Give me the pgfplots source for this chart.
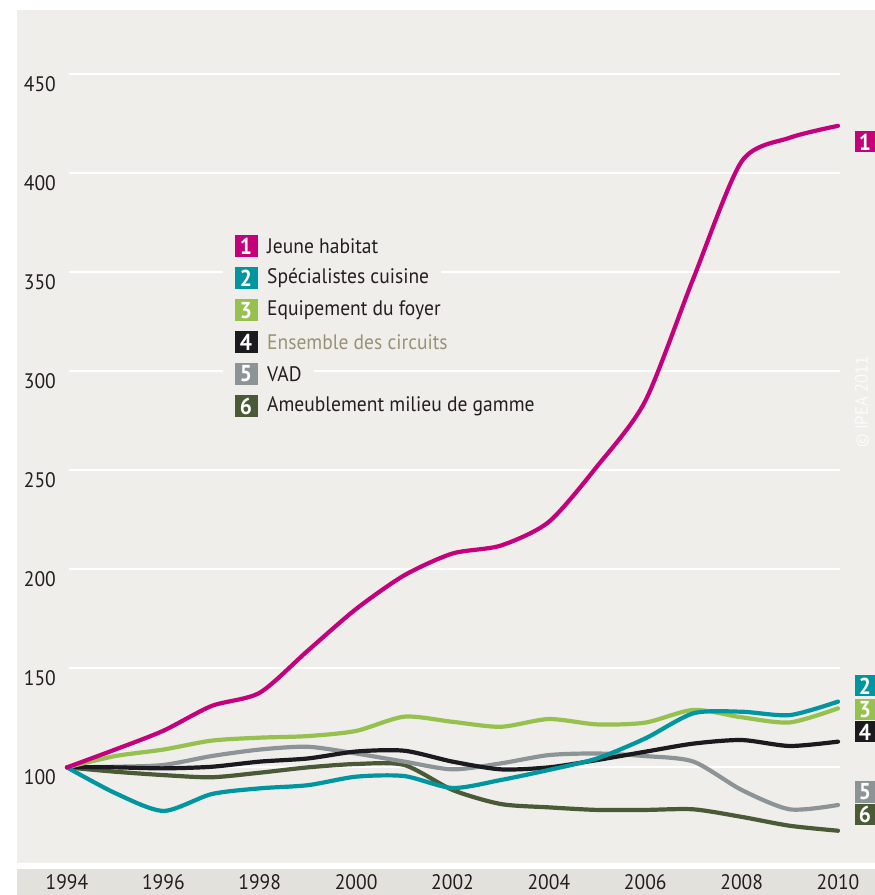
\documentclass[border=0pt]{standalone}
\usepackage{pgfplots}
\usepackage{pgfplotstable}
\pgfplotsset{compat=1.18}
\usepackage{fontspec}
\setmainfont{PT Sans}[FakeStretch=0.93]
\definecolor{panel}{RGB}{239,238,234}
\definecolor{band}{RGB}{227,225,219}
\definecolor{cJ}{RGB}{196,0,122}
\definecolor{cS}{RGB}{0,150,160}
\definecolor{cE}{RGB}{151,193,79}
\definecolor{cT}{RGB}{27,27,31}
\definecolor{cV}{RGB}{141,148,151}
\definecolor{cA}{RGB}{74,90,55}
\definecolor{txt}{RGB}{35,31,32}
\definecolor{khaki}{RGB}{154,146,117}
\newcommand{\lbl}{\fontsize{21}{25}\selectfont}

\pgfplotstableread{
year J S E T V A
1994 100 100 100 100 100 100
1995 109 87 105.7 100 100.3 97.8
1996 118.5 78 109 99.5 101.2 96.1
1997 131 86.5 113.5 100.3 105.7 95
1998 137.7 89.4 115 102.9 109 97.3
1999 159 91 115.8 104.5 110.4 100
2000 180 95.3 118.4 108 107 101.7
2001 197 95.6 125.6 108.4 102.9 101.2
2002 208 89.6 123 102.9 99 88.6
2003 212 93.6 120.5 99 102 81.5
2004 224 98.7 124.4 100 106.2 79.8
2005 252 104.5 121.7 103.7 107 78.5
2006 285 114.6 122.6 107.9 105.7 78.5
2007 347 127.3 129 112 102.9 78.8
2008 406 128.1 125.3 113.8 88.6 75
2009 418 126.4 122.7 110.8 78.8 70.5
2010 424 133.2 129.8 113 81 68
}\data

\newcommand{\legrow}[5]{%
  \fill[panel] (206,{#1-13}) rectangle (239,{#1+13});
  \node[anchor=west, fill=panel, inner xsep=12pt, inner ysep=0pt, minimum height=26pt, text=#5, font=\lbl] at (238,#1) {#4};
  \node[fill=#2, text=white, font=\fontsize{23}{25}\selectfont\bfseries, minimum width=23pt, minimum height=22pt, inner sep=0pt] at (229,#1) {#3};
}
\newcommand{\rbox}[3]{%
  \node[fill=#2, text=white, font=\fontsize{23}{25}\selectfont\bfseries, minimum width=20pt, minimum height=21pt, inner sep=0pt] at (848,#1) {#3};
}

\begin{document}
\begin{tikzpicture}
\begin{scope}[x=1pt,y=1pt]
\fill[band] (0,-6) rectangle (858,-32);
\end{scope}
\begin{axis}[
  at={(0,0)}, anchor=south west,
  scale only axis, width=858pt, height=853pt,
  xmin=1992.9625, xmax=2010.768, ymin=51.7, ymax=482.5,
  axis line style={draw=none}, tick style={draw=none},
  axis background/.style={fill=panel},
  xtick={1994,1996,...,2010}, ytick={100,150,...,450},
  /pgf/number format/assume math mode=true,
  /pgf/number format/1000 sep={},
  xticklabel style={anchor=center, yshift=-19pt, font=\lbl, text=txt},
  yticklabel style={anchor=north east, inner sep=0pt, xshift=39pt, yshift=-2pt, font=\lbl, text=txt},
  every axis plot/.append style={line width=4.2pt, line cap=round, line join=round, smooth, tension=0.45},
  clip=false,
]
\pgfplotsinvokeforeach{100,150,...,450}{
  \draw[white, line width=2.2pt] (axis cs:1994.04,#1) -- (axis cs:2010.04,#1);
}
\addplot[cA] table[x=year,y=A]{\data};
\addplot[cV] table[x=year,y=V]{\data};
\addplot[cT] table[x=year,y=T]{\data};
\addplot[cE] table[x=year,y=E]{\data};
\addplot[cS] table[x=year,y=S]{\data};
\addplot[cJ] table[x=year,y=J]{\data};
\end{axis}
\begin{scope}[x=1pt,y=1pt]
\legrow{617}{cJ}{1}{Jeune habitat}{txt}
\legrow{585}{cS}{2}{Spécialistes cuisine}{txt}
\legrow{552.5}{cE}{3}{Equipement du foyer}{txt}
\legrow{521}{cT}{4}{Ensemble des circuits}{khaki}
\legrow{489}{cV}{5}{VAD}{txt}
\legrow{457}{cA}{6}{Ameublement milieu de gamme}{txt}
\rbox{721}{cJ}{1}
\rbox{177}{cS}{2}
\rbox{153}{cE}{3}
\rbox{131}{cT}{4}
\rbox{71}{cV}{5}
\rbox{49}{cA}{6}
\node[rotate=90, text=white!75!panel, font=\fontsize{18}{20}\selectfont] at (845,461) {© IPEA 2011};
\path[use as bounding box] (-17,-32) rectangle (858,863);
\end{scope}
\end{tikzpicture}
\end{document}
